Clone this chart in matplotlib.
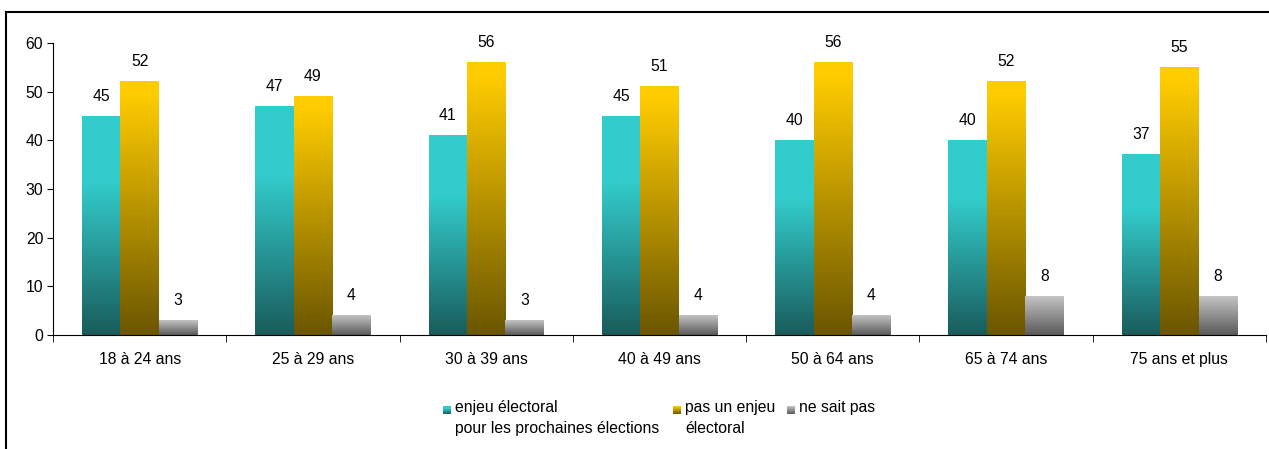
import numpy as np
import matplotlib
matplotlib.use('Agg')
import matplotlib.pyplot as plt
from matplotlib.colors import LinearSegmentedColormap
from matplotlib.lines import Line2D

plt.rcParams['font.family'] = ['Liberation Sans', 'DejaVu Sans']
plt.rcParams['font.size'] = 11.3

categories = ['18 à 24 ans', '25 à 29 ans', '30 à 39 ans', '40 à 49 ans',
              '50 à 64 ans', '65 à 74 ans', '75 ans et plus']
enjeu = [45, 47, 41, 45, 40, 40, 37]
pas_enjeu = [52, 49, 56, 51, 56, 52, 55]
ne_sait_pas = [3, 4, 3, 4, 4, 8, 8]
series_labels = ['enjeu électoral\npour les prochaines élections',
                 'pas un enjeu\nélectoral',
                 'ne sait pas']

# (bottom colour, top colour, fraction of height where top colour is reached)
gradients = [('#1a5c5c', '#33cccc', 0.7),
             ('#6b5600', '#ffcc00', 0.95),
             ('#5a5a5a', '#c4c4c4', 1.0)]


def grad_cmap(dark, light, reach):
    return LinearSegmentedColormap.from_list(
        'g', [(0, dark), (reach, light), (1, light)])


fig = plt.figure(figsize=(12.69, 4.49), dpi=100)
ax = fig.add_axes([53 / 1269, 114 / 449, (1266 - 53) / 1269, (406 - 114) / 449])

x = np.arange(len(categories))
w = 0.222
grad = np.linspace(0, 1, 256).reshape(-1, 1)

for i, (vals, g) in enumerate(zip([enjeu, pas_enjeu, ne_sait_pas], gradients)):
    cmap = grad_cmap(*g)
    bars = ax.bar(x + (i - 1) * w, vals, w, color='none', edgecolor='none')
    for b, v in zip(bars, vals):
        x0, y0 = b.get_x(), b.get_y()
        ax.imshow(grad, cmap=cmap, origin='lower', aspect='auto',
                  extent=(x0, x0 + b.get_width(), y0, y0 + b.get_height()),
                  zorder=2)
        ax.annotate(str(v), (x0 + b.get_width() / 2, v), xytext=(0, 9),
                    textcoords='offset points', ha='center', va='bottom')

ax.set_xlim(-0.5, len(categories) - 0.5)
ax.set_ylim(0, 60)
ax.set_yticks(range(0, 61, 10))
ax.set_xticks(x)
ax.set_xticklabels(categories)
ax.set_xticks(np.arange(len(categories) + 1) - 0.5, minor=True)
ax.tick_params(axis='x', which='major', length=0, pad=12)
ax.tick_params(axis='x', which='minor', length=5, direction='out')
ax.tick_params(axis='y', length=4, direction='out', pad=3)
for s in ['top', 'right']:
    ax.spines[s].set_visible(False)
ax.spines['left'].set_bounds(0, 60)

# legend drawn by hand
leg_x = [443, 673, 787]
for lx, lab, g in zip(leg_x, series_labels, gradients):
    lax = fig.add_axes([lx / 1269, (449 - 414) / 449, 8 / 1269, 8 / 449])
    lax.imshow(grad, cmap=grad_cmap(*g), origin='lower', aspect='auto')
    lax.axis('off')
    fig.text((lx + 12) / 1269, (449 - 400) / 449, lab, ha='left', va='top',
             linespacing=1.5)

# outer frame (top and left)
fig.add_artist(Line2D([6.5 / 1269, 6.5 / 1269], [0, (449 - 11.5) / 449],
                      transform=fig.transFigure, color='black', lw=1.5))
fig.add_artist(Line2D([6.5 / 1269, 1], [(449 - 11.5) / 449] * 2,
                      transform=fig.transFigure, color='black', lw=1.5))

fig.savefig('out.png', dpi=100)
